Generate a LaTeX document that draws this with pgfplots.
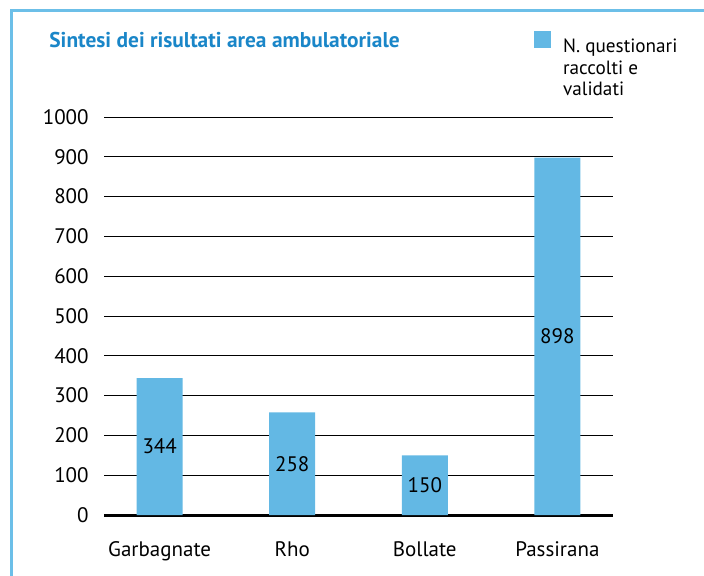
\documentclass[border=0pt]{standalone}
\usepackage{pgfplots}
\pgfplotsset{compat=1.18}
\usepackage{fontspec}
\setmainfont{PT Sans}
\definecolor{barblue}{HTML}{63B8E4}
\definecolor{titleblue}{HTML}{1A86C8}
\definecolor{frameblue}{HTML}{6CBFE8}
\begin{document}
\begin{tikzpicture}[x=1pt,y=1pt]
\useasboundingbox (0,0) rectangle (352,287.5);
\draw[frameblue, line width=1.5pt] (5.5,-5) -- (5.5,282.5) -- (360,282.5);
\node[anchor=base west, font=\bfseries\fontsize{10.7}{12}\selectfont, text=titleblue, inner sep=0] at (24.5,264) {Sintesi dei risultati area ambulatoriale};
\begin{axis}[
  at={(52pt,30pt)}, anchor=south west,
  scale only axis, width=254.5pt, height=199pt,
  /pgf/number format/assume math mode=true,
  /pgf/number format/1000 sep={},
  font=\fontsize{10.5}{12}\selectfont,
  ybar, bar width=23pt, bar shift=0pt,
  xmin=-0.42, xmax=3.42, ymin=0, ymax=1000,
  xtick=data, xticklabels={Garbagnate,Rho,Bollate,Passirana},
  ytick={0,100,...,1000},
  axis lines=left,
  y axis line style={draw=none},
  x axis line style={line width=1.5pt, -, black},
  major tick length=0pt,
  ymajorgrids, grid style={black, line width=0.5pt},
  yticklabel style={anchor=east, inner sep=0pt, xshift=-7.5pt},
  xticklabel style={anchor=base, inner sep=0pt, yshift=-20.5pt},
  legend style={at={(0.845,1.216)}, anchor=north west, draw=none, fill=none,
    inner sep=0pt, outer sep=0pt, font=\fontsize{9.6}{11.3}\selectfont,
    nodes={inner sep=0pt}, column sep=6pt},
  legend image code/.code={\fill[barblue] (0pt,-1pt) rectangle (8.5pt,7.5pt);},
  nodes near coords,
  visualization depends on=rawy \as \rawy,
  every node near coord/.append style={anchor=center, font=\fontsize{10.5}{12}\selectfont, shift={(axis direction cs:0,-\rawy/2)}},
]
\addplot[fill=barblue, draw=none] coordinates {(0,344) (1,258) (2,150) (3,898)};
\addlegendentry{\begin{tabular}[t]{@{}l@{}}N. questionari\\[-0.5pt]raccolti e\\[-0.5pt]validati\end{tabular}}
\end{axis}
\end{tikzpicture}
\end{document}
